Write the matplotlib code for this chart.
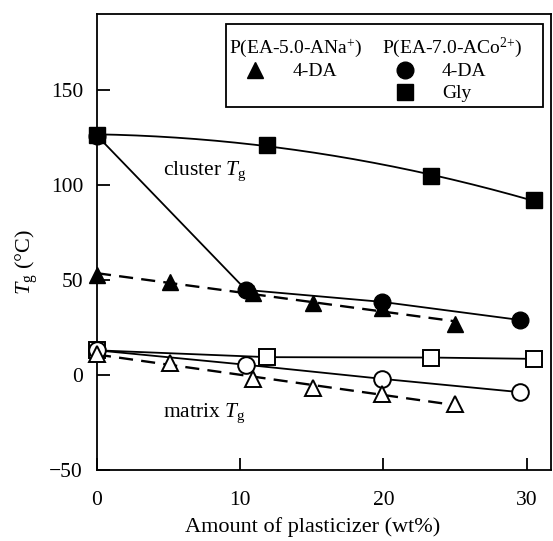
import numpy as np
import matplotlib
matplotlib.use("Agg")
import matplotlib.pyplot as plt
from matplotlib.patches import Rectangle
from matplotlib.lines import Line2D

plt.rcParams['font.family'] = ['Liberation Serif', 'DejaVu Serif']
plt.rcParams['mathtext.fontset'] = 'custom'
plt.rcParams['mathtext.rm'] = 'Liberation Serif'
plt.rcParams['mathtext.it'] = 'Liberation Serif:italic'
plt.rcParams['axes.unicode_minus'] = True

# Cluster Tg data
na_da_x = [0, 5.1, 10.9, 15.1, 19.9, 25.0]
na_da_cluster = [52.6, 49, 43, 38, 35.4, 26.6]
co_da_x = [0, 10.4, 19.9, 29.5]
co_da_cluster = [126, 44.8, 38.5, 29]
co_gly_x = [0, 11.9, 23.3, 30.5]
co_gly_cluster = [126.5, 121, 104.7, 92]

# Matrix Tg data
na_da_matrix = [11, 6.5, -2, -6.8, -10, -15]
co_da_matrix = [13, 5.4, -2, -9]
co_gly_matrix = [13, 9.4, 9.2, 8.5]

xticks = [0, 10, 20, 30]
yticks = [-50, 0, 50, 100, 150]

fig = plt.figure(figsize=(5.53, 5.41), dpi=100)
ax = fig.add_axes([0.1754, 0.1312, 0.8210, 0.8429])
ax.set_xlim(0, 31.7)
ax.set_ylim(-50, 190)

lw = 1.3
ms = 12
# Lines
gx = np.linspace(min(co_gly_x), max(co_gly_x), 200)
gfit = np.polyfit(co_gly_x, co_gly_cluster, 2)
ax.plot(gx, np.polyval(gfit, gx), color='black', lw=lw, zorder=2)
ax.plot(co_da_x, co_da_cluster, color='black', lw=lw, zorder=2)
tfit = np.polyfit(na_da_x, na_da_cluster, 1)
tx = np.array([min(na_da_x), max(na_da_x)])
ax.plot(tx, np.polyval(tfit, tx), color='black', lw=lw*1.3, ls=(0, (6, 3.5)), zorder=2)

ax.plot(co_gly_x, co_gly_matrix, color='black', lw=lw, zorder=2)
ax.plot(co_da_x, co_da_matrix, color='black', lw=lw, zorder=2)
mfit = np.polyfit(na_da_x, na_da_matrix, 1)
ax.plot(tx, np.polyval(mfit, tx), color='black', lw=lw*1.3, ls=(0, (6, 3.5)), zorder=2)

# Markers
ax.plot(co_gly_x, co_gly_cluster, 's', color='black', ms=ms-1, zorder=3, clip_on=False)
ax.plot(co_da_x, co_da_cluster, 'o', color='black', ms=ms, zorder=3, clip_on=False)
ax.plot(na_da_x, na_da_cluster, '^', color='black', ms=ms, zorder=3, clip_on=False)
ax.plot(co_gly_x, co_gly_matrix, 's', mfc='white', mec='black', mew=1.4, ms=ms-1, zorder=3, clip_on=False)
ax.plot(co_da_x, co_da_matrix, 'o', mfc='white', mec='black', mew=1.4, ms=ms, zorder=3, clip_on=False)
ax.plot(na_da_x, na_da_matrix, '^', mfc='white', mec='black', mew=1.4, ms=ms, zorder=4, clip_on=False)

# Axes styling
for s in ax.spines.values():
    s.set_linewidth(1.3)
ax.set_xticks(xticks)
ax.set_yticks(yticks)
ax.set_yticklabels(['\u221250', '0', '50', '100', '150'])
ax.tick_params(direction='in', length=9, width=1.3, labelsize=15.5,
               top=False, right=False)
ax.tick_params(axis='x', pad=15)
ax.tick_params(axis='y', pad=10)
ax.set_xlabel('Amount of plasticizer (wt%)', fontsize=16)
ax.set_ylabel(r'$T_{\mathrm{g}}$ (°C)', fontsize=16)
ax.xaxis.set_label_coords(0.476, -0.103)
ax.yaxis.set_label_coords(-0.125, 0.456)

ax.text(4.6, 107, r'cluster $T_{\mathrm{g}}$', fontsize=15.5, va='center', ha='left')
ax.text(4.6, -20, r'matrix $T_{\mathrm{g}}$', fontsize=15.5, va='center', ha='left')

# Legend box (manual)
T = ax.transAxes
ax.add_patch(Rectangle((0.284, 0.796), 0.698, 0.182, transform=T, fill=False,
                       ec='black', lw=1.3, zorder=5))
fs = 14
ax.text(0.291, 0.926, r'P(EA-5.0-ANa$^{+}$)', transform=T, fontsize=fs, va='center', ha='left')
ax.text(0.628, 0.926, r'P(EA-7.0-ACo$^{2{+}}$)', transform=T, fontsize=fs, va='center', ha='left')
ax.add_line(Line2D([0.348], [0.877], transform=T, marker='^', color='black', ms=ms, ls=''))
ax.text(0.430, 0.873, '4-DA', transform=T, fontsize=fs, va='center', ha='left')
ax.add_line(Line2D([0.678], [0.877], transform=T, marker='o', color='black', ms=ms, ls=''))
ax.text(0.760, 0.873, '4-DA', transform=T, fontsize=fs, va='center', ha='left')
ax.add_line(Line2D([0.678], [0.828], transform=T, marker='s', color='black', ms=ms-1, ls=''))
ax.text(0.760, 0.826, 'Gly', transform=T, fontsize=fs, va='center', ha='left')

fig.savefig('out.png', dpi=100)
